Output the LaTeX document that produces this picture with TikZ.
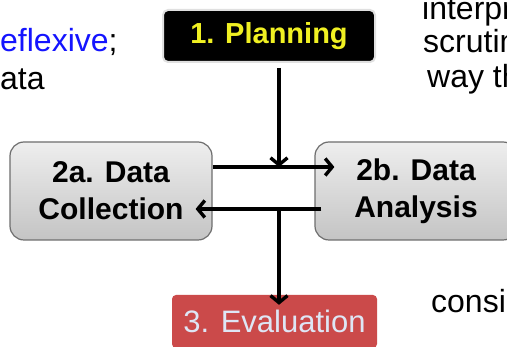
\documentclass[tikz,border=0pt]{standalone}
\usepackage{fontspec}
\setmainfont{Liberation Sans}
\usetikzlibrary{positioning,calc,arrows.meta}

\definecolor{planyellow}{RGB}{240,240,34}
\definecolor{boxtop}{RGB}{238,238,238}
\definecolor{boxbottom}{RGB}{196,196,196}
\definecolor{boxedge}{RGB}{110,110,110}
\definecolor{evalred}{RGB}{203,74,74}
\definecolor{evaltext}{RGB}{222,230,245}
\definecolor{linkblue}{RGB}{20,20,255}

\begin{document}
\begin{tikzpicture}[x=1pt, y=-1pt,
    darknode/.style={rectangle, rounded corners=5pt, fill=black, draw=black!12, line width=2pt, minimum width=212pt, minimum height=52pt, inner sep=0pt, text=planyellow, font=\fontsize{29}{35}\selectfont\bfseries},
    greynode/.style={rectangle, rounded corners=14pt, top color=boxtop, bottom color=boxbottom, draw=boxedge, line width=1.2pt, minimum width=202pt, minimum height=98pt, inner sep=0pt, align=center, font=\fontsize{30}{37}\selectfont\bfseries},
    rednode/.style={rectangle, rounded corners=4pt, fill=evalred, minimum width=205pt, minimum height=53pt, inner sep=0pt, text=evaltext, font=\fontsize{31}{37}\selectfont},
    sidetext/.style={anchor=base west, inner sep=0pt, font=\fontsize{32}{38}\selectfont},
    flow/.style={-{Straight Barb[length=7pt,width=17pt]}, line width=3.4pt},
]
\fill[white] (0,0) rectangle (507,347);
\useasboundingbox (0,0) rectangle (507,347);
\clip (0,0) rectangle (507,347);

% side text, cut off by the frame
\node[sidetext] (lefttop)    at (0,52)   {\textcolor{linkblue}{eflexive};};
\node[sidetext] (leftbottom) at (0,90)   {ata};
\node[sidetext] (rightone)   at (422,20) {interpr};
\node[sidetext] (righttwo)   at (423,53) {scrutin};
\node[sidetext] (rightthree) at (427,88) {way th};
\node[sidetext] (rightfour)  at (431,313) {consi};

% the stages
\node[darknode] (plan) at (269,36)    {1. Planning};
\node[greynode] (coll) at (111,191)   {2a. Data\\Collection};
\node[greynode] (anal) at (416,191)   {2b. Data\\Analysis};
\node[rednode]  (eval) at (274.5,321.5) {3. Evaluation};

\coordinate (split) at (279,167);
\coordinate (join)  at (279,209);

\draw[flow] ($(plan.south -| split)+(0,5)$) -- (split);
\draw[flow] (coll.east |- split) -- ($(anal.west |- split)+(20,0)$);
\draw[flow] ($(anal.west |- join)+(7,0)$) -- ($(coll.east |- join)+(-17,0)$);
\draw[flow] (join) -- ($(eval.north -| join)+(0,10)$);
\end{tikzpicture}
\end{document}
